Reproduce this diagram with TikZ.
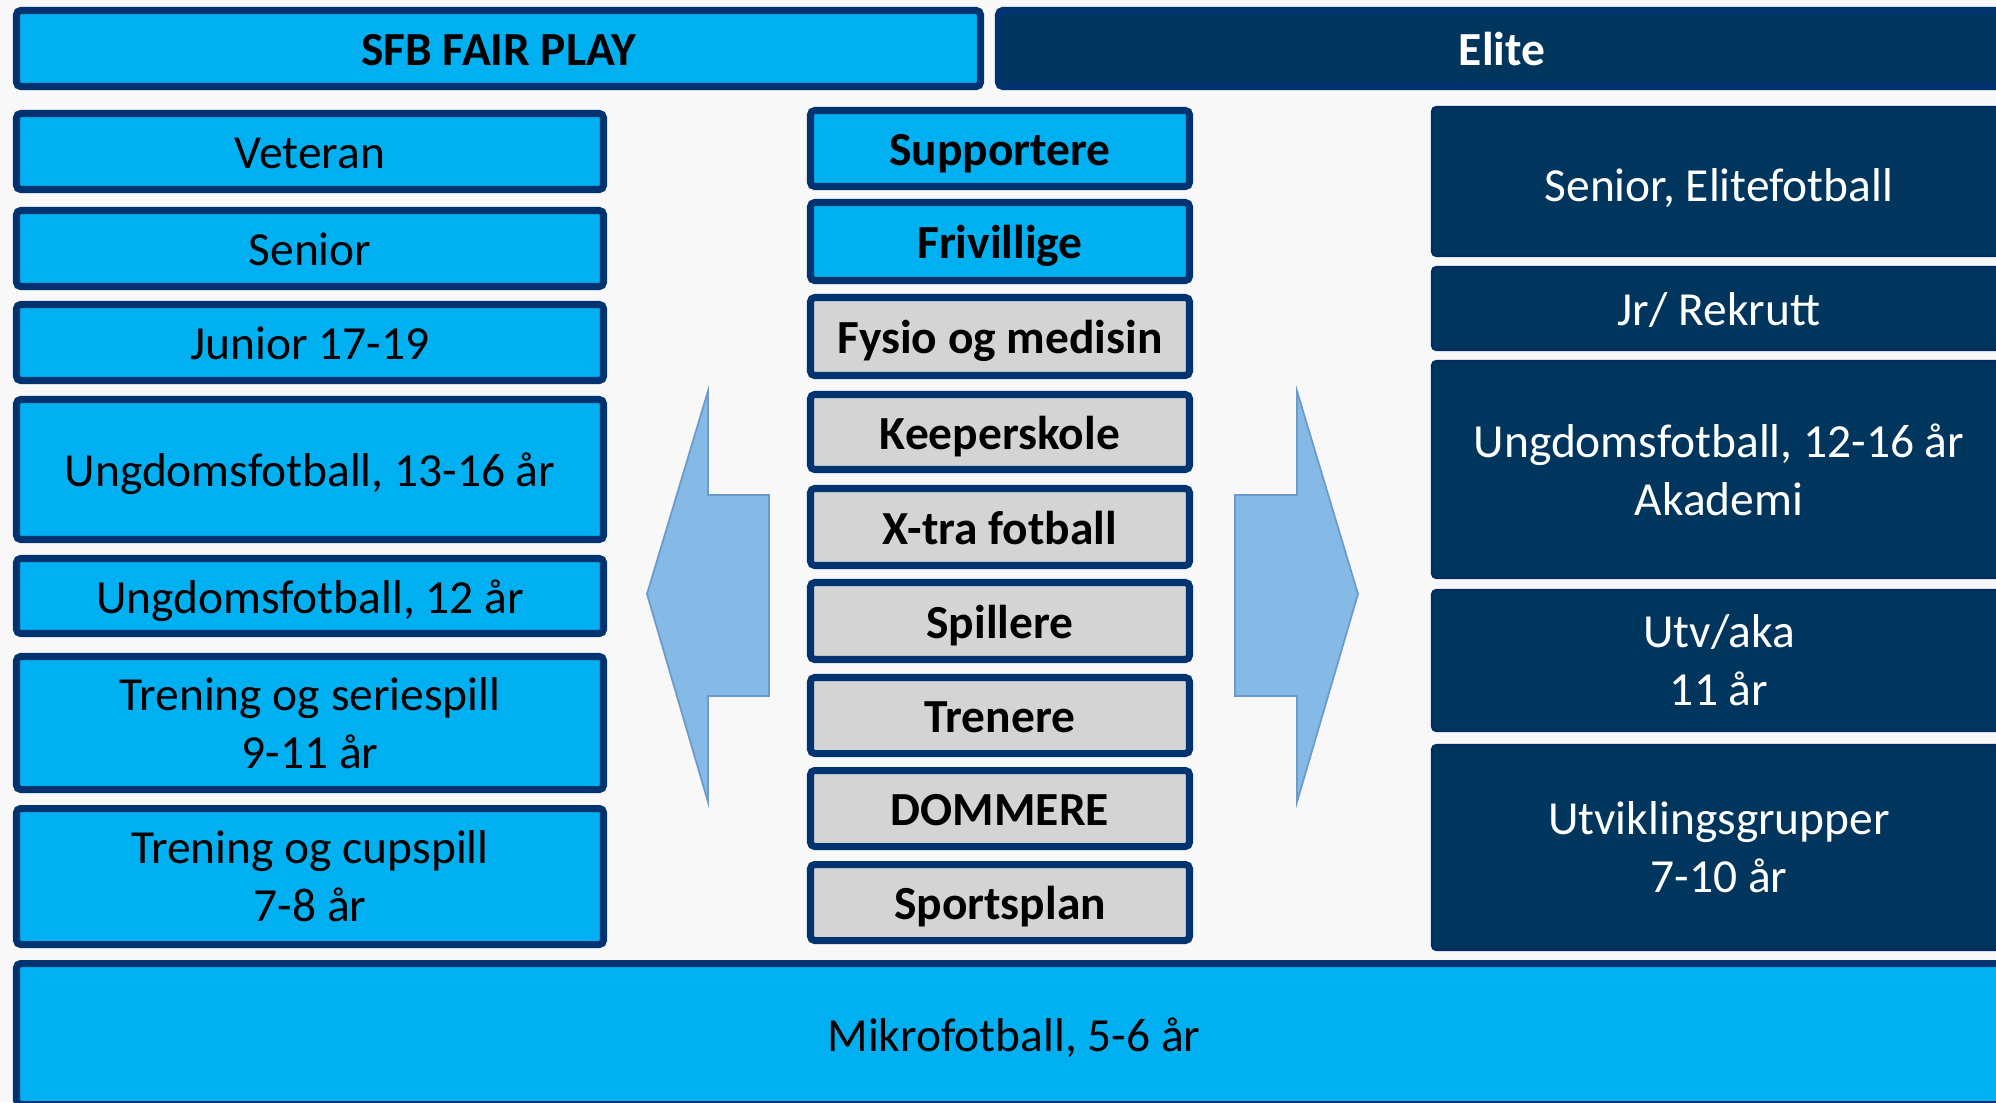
\documentclass[tikz,border=0pt]{standalone}
\usepackage{fontspec}
\setmainfont{Carlito}
\definecolor{cyanfill}{HTML}{00B0F0}
\definecolor{darkborder}{HTML}{00336F}
\definecolor{navyfill}{HTML}{00365E}
\definecolor{navyborder}{HTML}{002C62}
\definecolor{grayfill}{HTML}{D4D4D4}
\definecolor{arrowfill}{HTML}{85B9E6}
\definecolor{arrowline}{HTML}{6C9BCB}
\definecolor{bgcol}{HTML}{F8F8F8}
\newcommand\bx[7]{\node[#6, minimum width={(#4-#2-7)*0.01cm}, minimum height={(#5-#3-7)*0.01cm}] (#1) at ({(#2+#4)/2},{(#3+#5)/2}) {#7};}
\newcommand\nbx[7]{\node[#6, minimum width={(#4-#2-2)*0.01cm}, minimum height={(#5-#3-2)*0.01cm}] (#1) at ({(#2+#4)/2},{(#3+#5)/2}) {#7};}
\begin{document}
\begin{tikzpicture}[x=0.01cm,y=-0.01cm,
  base/.style={rectangle, rounded corners=1.2pt, inner sep=0pt, align=center, font=\fontsize{13.5}{16.5}\selectfont},
  one/.style={text height=0.97em, text depth=0pt},
  cyanbox/.style={base, fill=cyanfill, draw=darkborder, line width=2pt, text=black},
  boldcyan/.style={cyanbox, font=\fontsize{13.5}{16.5}\selectfont\bfseries},
  graybox/.style={boldcyan, fill=grayfill},
  topnavy/.style={boldcyan, fill=navyfill, draw=darkborder, text=white},
  navybox/.style={base, fill=navyfill, draw=navyborder, line width=0.6pt, text=white},
  arrowshape/.style={fill=arrowfill, draw=arrowline, line width=0.5pt}]
\useasboundingbox (0,0) rectangle (1996,1102);
\clip (0,0) rectangle (1996,1102);
\fill[bgcol] (0,0) rectangle (1996,1102);

% headers
\bx{sfb}{13}{7}{984}{90}{boldcyan,one}{SFB FAIR PLAY}
\bx{elite}{995}{7}{2009}{90}{topnavy,one}{Elite}

% left column
\bx{veteran}{13}{110}{607}{193}{cyanbox,one}{Veteran}
\bx{senior}{13}{207}{607}{290}{cyanbox,one}{Senior}
\bx{junior}{13}{301}{607}{384}{cyanbox,one}{Junior 17-19}
\bx{u1316}{13}{396}{607}{543}{cyanbox,one}{Ungdomsfotball, 13-16 år}
\bx{u12}{13}{555}{607}{637}{cyanbox,one}{Ungdomsfotball, 12 år}
\bx{serie}{13}{653}{607}{793}{cyanbox}{Trening og seriespill\\9-11 år}
\bx{cup}{13}{805}{607}{948}{cyanbox}{Trening og cupspill\\7-8 år}

% bottom
\bx{mikro}{13}{960}{2015}{1108}{cyanbox,one}{Mikrofotball, 5-6 år}

% center column
\bx{supp}{807}{107}{1193}{190}{boldcyan,one}{Supportere}
\bx{friv}{807}{199}{1193}{284}{boldcyan,one}{Frivillige}
\bx{fysio}{807}{294}{1193}{379}{graybox,one}{Fysio og medisin}
\bx{keeper}{807}{391}{1193}{473}{graybox,one}{Keeperskole}
\bx{xtra}{807}{485}{1193}{569}{graybox,one}{X-tra fotball}
\bx{spill}{807}{579}{1193}{663}{graybox,one}{Spillere}
\bx{tren}{807}{674}{1193}{757}{graybox,one}{Trenere}
\bx{domm}{807}{767}{1193}{850}{graybox,one}{DOMMERE}
\bx{sport}{807}{861}{1193}{944}{graybox,one}{Sportsplan}

% right column
\nbx{seniorelite}{1431}{106}{2007}{257}{navybox,one,text height=1.12em}{Senior, Elitefotball}
\nbx{jr}{1431}{266}{2007}{351}{navybox,one}{Jr/ Rekrutt}
\nbx{akademi}{1431}{360}{2007}{579}{navybox}{Ungdomsfotball, 12-16 år\\Akademi}
\nbx{utv}{1431}{589}{2007}{732}{navybox}{Utv/aka\\11 år}
\nbx{utvgr}{1431}{744}{2007}{951}{navybox}{Utviklingsgrupper\\7-10 år}

% arrows
\draw[arrowshape] (647,594) -- (708,391) -- (708,495) -- (769,495) -- (769,696) -- (708,696) -- (708,802) -- cycle;
\draw[arrowshape] (1358,594) -- (1297,391) -- (1297,495) -- (1235,495) -- (1235,696) -- (1297,696) -- (1297,802) -- cycle;
\end{tikzpicture}
\end{document}
